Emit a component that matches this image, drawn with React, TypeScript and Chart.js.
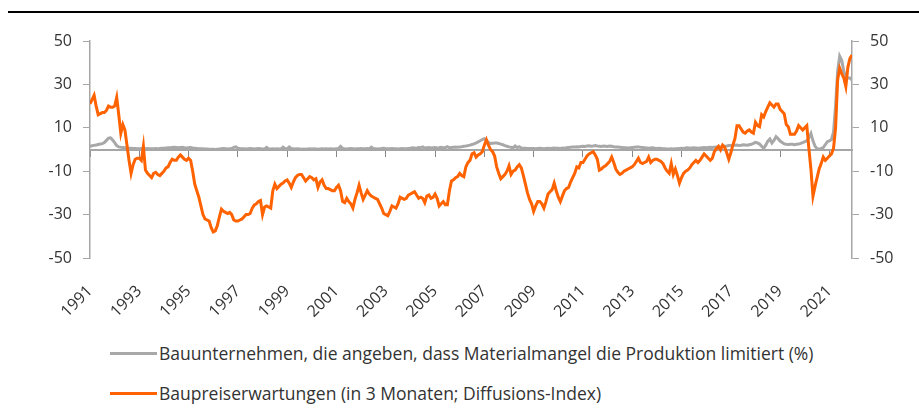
import React, { useEffect, useRef } from "react";
import { Chart, registerables } from "chart.js";

Chart.register(...registerables);

const startYear = 1991;
const tickLabels = ["1991", "1993", "1995", "1997", "1999", "2001", "2003", "2005", "2007", "2009", "2011", "2013", "2015", "2017", "2019", "2021"];
const yTicks = [-50, -30, -10, 10, 30, 50];

const seriesNames = [
  "Bauunternehmen, die angeben, dass Materialmangel die Produktion limitiert (%)",
  "Baupreiserwartungen (in 3 Monaten; Diffusions-Index)",
];

// Monthly values, Jan 1991 - Dec 2021
const materialShortage = [
  1.5, 1.7, 1.9, 2.1, 2.3, 2.5, 2.7, 3.2, 4.2, 5.2, 5.4, 4.4,
  3.2, 1.8, 1.2, 1.0, 0.9, 0.8, 0.7, 0.6, 0.6, 0.5, 0.5, 0.4,
  0.4, 0.5, 0.3, 0.4, 0.5, 0.4, 0.3, 0.3, 0.4, 0.3, 0.5, 0.6,
  0.6, 0.7, 0.8, 0.8, 0.9, 1.0, 0.9, 0.8, 0.9, 1.0, 0.8, 0.7,
  0.8, 0.9, 0.7, 0.6, 0.5, 0.4, 0.3, 0.3, 0.2, 0.2, 0.1, 0.1,
  0.1, 0.0, 0.1, 0.2, 0.3, 0.4, 0.3, 0.2, 0.3, 0.4, 1.0, 1.2,
  0.6, 0.4, 0.3, 0.3, 0.2, 0.3, 0.4, 0.3, 0.2, 0.3, 0.4, 0.3,
  0.2, 0.3, 1.0, 0.3, 0.2, 0.3, 0.2, 0.3, 0.2, 0.3, 1.1, 0.4,
  0.3, 1.2, 0.4, 0.3, 0.2, 0.3, 0.2, 0.1, 0.2, 0.1, 0.2, 0.3,
  0.2, 0.3, 0.2, 0.1, 0.2, 0.3, 0.2, 0.3, 0.2, 0.3, 0.2, 0.2,
  0.3, 0.4, 1.4, 0.5, 0.3, 0.2, 0.3, 0.4, 0.3, 0.2, 0.3, 0.4,
  0.5, 0.3, 0.4, 0.5, 0.3, 1.1, 0.4, 0.3, 0.2, 0.3, 0.5, 0.6,
  0.4, 0.3, 0.4, 0.5, 0.4, 0.3, 0.2, 0.4, 0.5, 0.3, 0.4, 0.5,
  0.6, 0.8, 0.7, 0.6, 0.9, 0.8, 1.2, 0.7, 0.8, 0.9, 0.7, 0.8,
  0.9, 0.7, 0.8, 1.0, 0.7, 0.9, 1.3, 0.8, 0.9, 1.0, 1.1, 1.0,
  1.2, 1.3, 1.5, 1.6, 1.8, 2.0, 2.3, 2.6, 3.0, 3.5, 4.0, 4.6,
  5.0, 4.2, 3.2, 2.8, 2.9, 3.0, 3.0, 2.8, 2.5, 2.2, 1.8, 1.5,
  1.2, 1.0, 0.8, 1.6, 0.8, 1.3, 0.7, 0.6, 0.6, 0.5, 0.5, 0.5,
  0.5, 0.4, 0.5, 0.6, 0.5, 0.4, 0.5, 0.6, 0.5, 0.6, 0.7, 0.6,
  0.6, 0.5, 0.7, 0.6, 0.8, 0.9, 1.0, 1.1, 1.2, 1.3, 1.2, 1.4,
  1.5, 1.4, 1.6, 1.7, 1.5, 1.6, 1.8, 1.6, 1.5, 1.4, 1.6, 1.5,
  1.4, 1.6, 1.5, 1.3, 1.2, 1.1, 1.0, 0.9, 0.8, 0.8, 0.7, 0.8,
  0.9, 1.0, 1.1, 1.2, 1.0, 0.9, 0.8, 0.7, 0.6, 0.7, 0.8, 0.6,
  0.5, 0.6, 0.5, 0.4, 0.3, 0.2, 0.2, 0.3, 0.2, 0.3, 0.4, 0.5,
  0.6, 0.5, 0.7, 0.8, 0.6, 0.7, 0.8, 0.7, 0.6, 0.7, 0.8, 0.9,
  0.8, 0.9, 1.0, 0.9, 1.1, 1.2, 1.0, 1.2, 1.4, 1.5, 1.6, 1.8,
  1.8, 1.9, 2.0, 2.1, 1.9, 2.0, 2.2, 2.1, 2.0, 2.2, 2.4, 2.8,
  3.3, 3.0, 2.5, 1.5, 0.5, 2.0, 3.8, 4.8, 3.0, 4.2, 5.9, 5.0,
  3.9, 3.2, 2.6, 2.4, 2.3, 2.4, 2.4, 2.2, 2.4, 2.5, 2.8, 3.2,
  3.6, 4.0, 5.5, 7.4, 4.0, 1.5, 0.4, 0.2, 0.5, 0.9, 2.2, 3.6,
  4.0, 4.6, 8.0, 20.0, 36.0, 43.0, 41.0, 36.0, 33.5, 33.0, 33.0, 32.0,
];

const priceExpectations = [
  21, 23, 25, 20, 16, 16.5, 17, 17, 18, 20, 19.5, 19.5,
  20, 24, 16, 7.5, 11.5, 9, 2, -5, -11, -7, -4.5, -4,
  -4, -5, 1.5, -9.5, -11, -12, -13, -11, -10.5, -11.5, -12, -11,
  -10, -8.5, -8, -6, -4.5, -5, -5, -3.5, -2.5, -3.5, -4.5, -5,
  -4, -5, -10, -16, -19, -22, -26, -30, -32, -32.5, -33, -36,
  -38, -37.5, -35, -31, -27.5, -28.5, -29, -29.5, -29, -30, -32.5, -33,
  -33, -32.5, -32, -31, -30, -30, -29.5, -27, -25.5, -25, -24, -23.5,
  -30, -26.5, -26, -26.5, -27, -19, -16, -18, -17, -16, -15.5, -14.5,
  -14, -15.5, -17.5, -15, -13, -12, -11.5, -11.5, -13, -14.5, -13.5, -12.5,
  -13, -14, -13.5, -17.5, -15, -14, -16.5, -18, -18, -18.5, -19, -19,
  -17.5, -16.5, -19, -24, -24.5, -22.5, -24, -25, -27, -23, -20, -16.5,
  -20, -23, -21, -19, -20.5, -21.5, -22, -22.5, -23, -25, -27, -29.5,
  -30, -30.5, -28.5, -26, -26.5, -27, -25, -22, -22.5, -23, -22.5, -21,
  -20.5, -20, -19.5, -21, -22.5, -22, -22.5, -24.5, -21.5, -21, -22.5, -22,
  -20.5, -22.5, -26, -25, -24, -25.5, -25.5, -19, -14.5, -14, -13, -12.5,
  -11, -12, -12.5, -8, -6, -5, -2, -1.5, -3.5, -2.5, -2, -1,
  2, 4.5, 2, 0, -1, -3, -8, -11, -13.5, -12.5, -11.5, -10,
  -7.5, -11.5, -10, -9.5, -8, -7, -8.5, -12, -16, -20, -23, -25,
  -28.5, -26, -24, -24, -25, -27, -24, -20.5, -19.5, -18.5, -15.5, -19,
  -22, -24, -21.5, -19, -18, -17.5, -15, -13, -11, -8, -8.5, -6,
  -6, -4.5, -3, -2, -1.5, -1, -2.5, -4.5, -9.5, -9, -8, -7.5,
  -6.5, -5.5, -3.5, -6, -9, -10.5, -11.5, -11, -10, -9.5, -9, -8.5,
  -8, -7, -5.5, -4, -6, -6.5, -6, -5.5, -3.5, -6, -5, -4.5,
  -4.5, -5, -5.5, -6.5, -8.5, -10, -11, -6.5, -11.5, -9, -12, -15.5,
  -13, -11, -10, -9.5, -8.5, -7, -6, -5, -6, -5, -3.5, -2,
  -3, -4, -5, -4, -1, 0.5, 1.5, -0.2, 2, 1, -1.5, -4.5,
  -1.5, 2, 5, 11, 11, 9.5, 8, 7.5, 8.5, 9, 8, 7.5,
  12.5, 11, 10.5, 16, 15, 17.5, 19.5, 21.5, 20.5, 19.5, 21, 21,
  18.5, 17.5, 16.5, 11.5, 10.5, 7, 7, 7, 8.5, 11, 10, 9,
  10, 11, 0.5, -9, -21.5, -17, -13, -9, -6.5, -3.5, -5, -4,
  -3, -2, 0.5, 10, 32, 37.5, 35, 33, 29, 38, 42, 43.5,
];

const GRAY = "#a8a8a8";
const ORANGE = "#ff6200";
const AXIS = "#a6a6a6";
const TEXT = "#333333";
const FONT = "'Open Sans', sans-serif";

const toPoints = (vals: number[]) => vals.map((v, i) => ({ x: i, y: v }));
const tickValues = tickLabels.map((l) => (Number(l) - startYear) * 12);

export default function App() {
  const ref = useRef<HTMLCanvasElement | null>(null);

  useEffect(() => {
    if (!ref.current) return;
    const lastIdx = priceExpectations.length - 1;
    const setXTicks = (s: any) => {
      s.ticks = tickValues.map((v) => ({ value: v }));
    };
    const yAxis = (position: "left" | "right", width: number) => ({
      position,
      min: -50,
      max: 50,
      afterBuildTicks: (s: any) => {
        s.ticks = yTicks.map((v) => ({ value: v }));
      },
      afterFit: (s: any) => {
        s.width = width;
      },
      ticks: {
        color: TEXT,
        font: { family: FONT, size: 16 },
        padding: 11,
      },
      grid: { drawOnChartArea: false, tickLength: 7, color: AXIS, lineWidth: 1 },
      border: { color: AXIS, width: 1.5 },
    });

    const chart = new Chart(ref.current, {
      type: "line",
      data: {
        datasets: [
          {
            label: seriesNames[1],
            data: toPoints(priceExpectations),
            borderColor: ORANGE,
            backgroundColor: ORANGE,
            borderWidth: 3,
            pointRadius: 0,
            tension: 0,
            order: 1,
            xAxisID: "x",
            yAxisID: "y",
          },
          {
            label: seriesNames[0],
            data: toPoints(materialShortage),
            borderColor: GRAY,
            backgroundColor: GRAY,
            borderWidth: 3,
            pointRadius: 0,
            tension: 0,
            order: 2,
            xAxisID: "x",
            yAxisID: "y",
          },
        ],
      },
      options: {
        animation: false,
        responsive: false,
        devicePixelRatio: 1,
        layout: { padding: { top: 41, left: 0, right: 0, bottom: 0 } },
        plugins: { legend: { display: false }, tooltip: { enabled: false } },
        scales: {
          x: {
            type: "linear",
            position: "bottom",
            min: 0,
            max: lastIdx,
            afterBuildTicks: setXTicks,
            afterFit: (s: any) => {
              s.height = 72;
            },
            ticks: {
              color: TEXT,
              font: { family: FONT, size: 16, lineHeight: 0.1 },
              padding: 30,
              minRotation: 45,
              maxRotation: 45,
              autoSkip: false,
              callback: (v: any) => String(startYear + Number(v) / 12),
            },
            grid: { display: false, drawTicks: false },
            border: { display: false },
          },
          x0: {
            type: "linear",
            position: { y: 0 } as any,
            min: 0,
            max: lastIdx,
            afterBuildTicks: setXTicks,
            ticks: { display: false },
            grid: { drawOnChartArea: false, drawTicks: true, tickLength: 6, color: "#888888", lineWidth: 1 },
            border: { color: AXIS, width: 2 },
          },
          y: yAxis("left", 90) as any,
          y2: yAxis("right", 67) as any,
        },
      },
    });
    return () => chart.destroy();
  }, []);

  const legendRow = (color: string, text: string, top: number) => (
    <div
      style={{
        position: "absolute",
        left: 110,
        top,
        height: 20,
        display: "flex",
        alignItems: "center",
        whiteSpace: "nowrap",
      }}
    >
      <div style={{ width: 47, height: 3, background: color, marginRight: 2 }} />
      <span style={{ fontFamily: FONT, fontSize: 17.5, color: TEXT }}>{text}</span>
    </div>
  );

  return (
    <div style={{ position: "absolute", left: 0, top: 0, width: 919, height: 418, background: "#fff" }}>
      <div style={{ position: "absolute", left: 8, top: 11, width: 911, height: 2, background: "#000" }} />
      <canvas ref={ref} width={919} height={330} style={{ position: "absolute", left: 0, top: 0, width: 919, height: 330 }} />
      {legendRow(GRAY, seriesNames[0], 343)}
      {legendRow(ORANGE, seriesNames[1], 383)}
    </div>
  );
}
